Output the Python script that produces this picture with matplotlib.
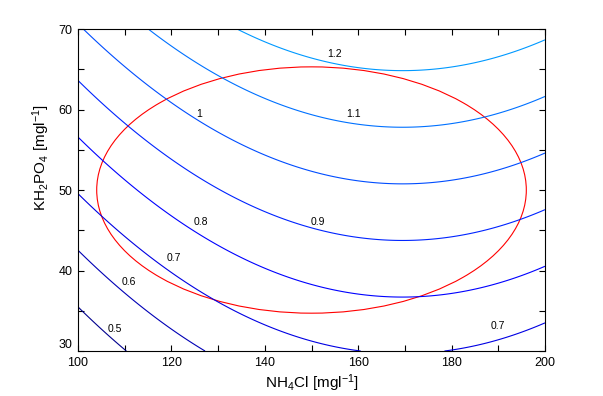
import numpy as np
import matplotlib.pyplot as plt
from matplotlib.patches import Ellipse
from matplotlib.ticker import MultipleLocator

plt.rcParams['font.family'] = ['Liberation Sans', 'DejaVu Sans']
plt.rcParams['mathtext.fontset'] = 'custom'
plt.rcParams['mathtext.rm'] = 'Liberation Sans'
plt.rcParams['mathtext.it'] = 'Liberation Sans'

# modelo quadratico da superficie de resposta (coeficientes)
b0 = -1.4027
b_nh4 = 0.019832
b_nh4_2 = -5.85e-5
b_kh2 = 0.01422

niveis = [0.5, 0.6, 0.7, 0.8, 0.9, 1.0, 1.1, 1.2]

# rotulos das curvas
rotulos = ["1.2", "1.1", "1", "0.9", "0.8", "0.7", "0.6", "0.5", "0.7"]
rot_x = [155.0, 158.9, 125.9, 151.4, 126.3, 120.6, 110.9, 107.9, 189.9]
rot_y = [66.9, 59.4, 59.4, 46.0, 46.0, 41.6, 38.6, 32.7, 33.1]

# regiao experimental (elipse)
centro = (150, 50)
largura = 92
altura = 30.6

nh4 = np.linspace(100, 200, 401)
kh2 = np.linspace(30, 70, 401)
X, Y = np.meshgrid(nh4, kh2)
Z = b0 + b_nh4 * X + b_nh4_2 * X ** 2 + b_kh2 * Y

fig = plt.figure(figsize=(6.03, 3.96), dpi=100)
ax = fig.add_axes([0.1294, 0.1136, 0.7744, 0.8131])

ax.contour(X, Y, Z, levels=niveis, cmap='jet', vmin=0.467, vmax=3.13,
           linewidths=0.8)
ax.add_patch(Ellipse(centro, largura, altura, facecolor='none',
                     edgecolor='red', linewidth=0.8))

for txt, x, y in zip(rotulos, rot_x, rot_y):
    ax.text(x, y, txt, fontsize=7.5, ha='center', va='center')

ax.set_xlim(100, 200)
ax.set_ylim(30, 70)
ax.xaxis.set_major_locator(MultipleLocator(20))
ax.xaxis.set_minor_locator(MultipleLocator(10))
ax.yaxis.set_major_locator(MultipleLocator(10))
ax.yaxis.set_minor_locator(MultipleLocator(5))
ax.tick_params(which='both', direction='in', top=True, right=True,
               length=4, width=0.8, labelsize=9, pad=4)
for s in ax.spines.values():
    s.set_linewidth(0.8)

ax.set_xlabel(r"NH$_4$Cl [mgl$^{\mathregular{-1}}$]", fontsize=11)
ax.set_ylabel(r"KH$_2$PO$_4$ [mgl$^{\mathregular{-1}}$]", fontsize=11)
ax.xaxis.set_label_coords(0.5, -0.066)
ax.yaxis.set_label_coords(-0.055, 0.6)

fig.canvas.draw()
for lbl in ax.get_yticklabels():
    if lbl.get_text() == '30':
        lbl.set_va('bottom')

fig.savefig("out.png", dpi=100)
